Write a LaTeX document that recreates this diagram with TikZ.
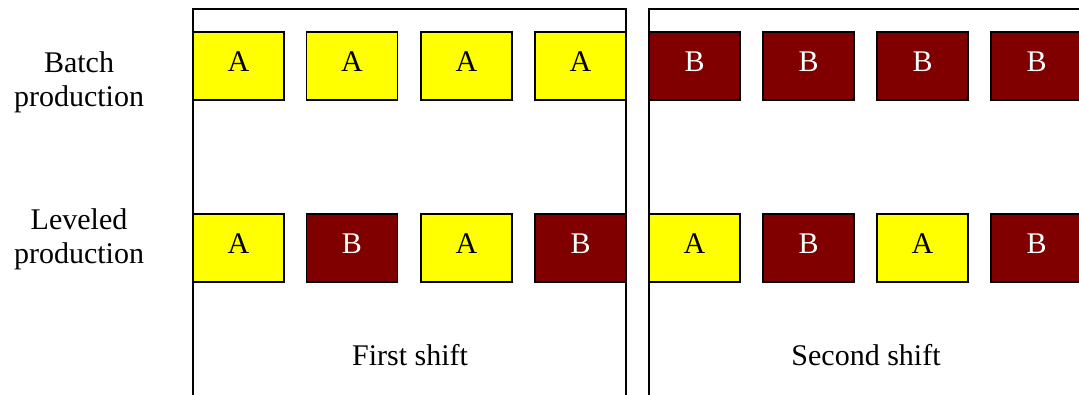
\documentclass[tikz,border=0pt]{standalone}
\usepackage{fontspec}
\setmainfont{Liberation Serif}
\newfontfamily\timesfont{Liberation Serif}
\definecolor{prodA}{HTML}{FFFF00}
\definecolor{prodB}{HTML}{800000}
\tikzset{
  x=1pt, y=-1pt,
  slot/.style={draw=black, line width=1.6pt, minimum width=91pt, minimum height=68pt,
    inner sep=0pt, text height=20pt, text depth=10pt, font=\timesfont\fontsize{30}{33}\selectfont},
  slotA/.style={slot, fill=prodA, text=black},
  slotB/.style={slot, fill=prodB, text=white},
  frameline/.style={draw=black, line width=1.6pt},
  lbl/.style={font=\timesfont\fontsize{30}{34}\selectfont, align=center, inner sep=0pt},
}
\begin{document}
\begin{tikzpicture}
\useasboundingbox (0,0) rectangle (1079,394);
\begin{scope}
\clip (0,0) rectangle (1079,394);
% frames
\coordinate (f1bl) at (193,400);
\coordinate (f1tl) at (193,9);
\coordinate (f1tr) at (626,9);
\coordinate (f1br) at (626,400);
\coordinate (f2bl) at (649,400);
\coordinate (f2tl) at (649,9);
\coordinate (f2tr) at (1090,9);
\draw[frameline] (f1bl) -- (f1tl) -- (f1tr) -- (f1br);
\draw[frameline] (f2bl) -- (f2tl) -- (f2tr);
% batch row
\node[slotA] (b1) at (238.5,66) {A};
\node[slotA] (b2) at (352,66) {A};
\node[slotA] (b3) at (466.5,66) {A};
\node[slotA] (b4) at (580.5,66) {A};
\node[slotB] (b5) at (694.5,66) {B};
\node[slotB] (b6) at (808.5,66) {B};
\node[slotB] (b7) at (922.5,66) {B};
\node[slotB] (b8) at (1036.5,66) {B};
% leveled row
\node[slotA] (l1) at (238.5,248) {A};
\node[slotB] (l2) at (352,248) {B};
\node[slotA] (l3) at (466.5,248) {A};
\node[slotB] (l4) at (580.5,248) {B};
\node[slotA] (l5) at (694.5,248) {A};
\node[slotB] (l6) at (808.5,248) {B};
\node[slotA] (l7) at (922.5,248) {A};
\node[slotB] (l8) at (1036.5,248) {B};
\end{scope}
% labels
\node[lbl] (batch) at (79,82) {Batch\\production};
\node[lbl] (level) at (79,239) {Leveled\\production};
\node[lbl, anchor=base] (first) at (410,365) {First shift};
\node[lbl, anchor=base] (second) at (866,365) {Second shift};
\end{tikzpicture}
\end{document}
